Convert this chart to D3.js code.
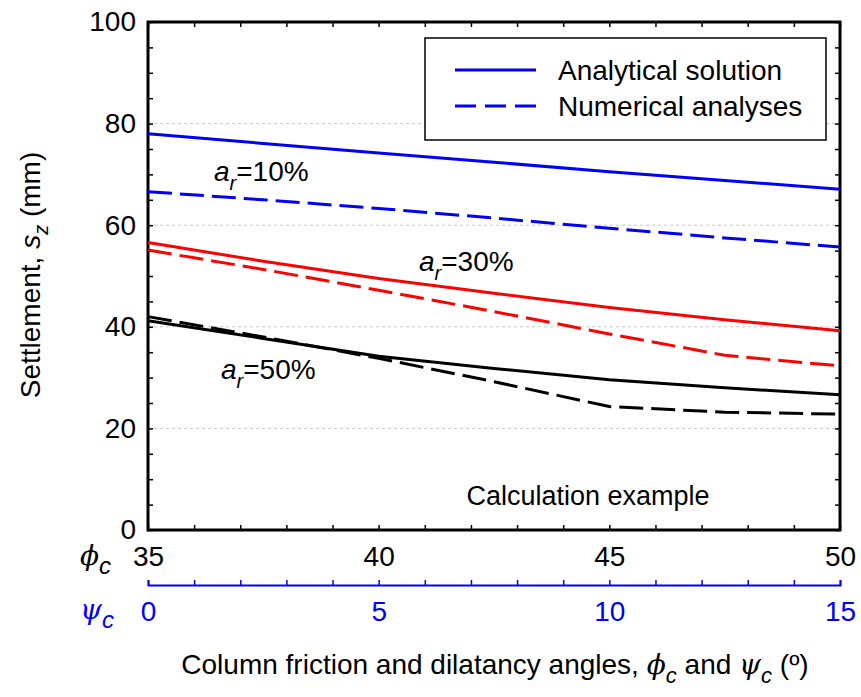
<!DOCTYPE html>
<html>
<head>
<meta charset="utf-8">
<script src="https://cdn.jsdelivr.net/npm/d3@7"></script>
<style>
  body { margin: 0; background: #fff; }
  svg { font-family: "Liberation Sans", Arial, sans-serif; }
</style>
</head>
<body>
<svg width="861" height="697"></svg>
<script>
// friction angle phi_c (deg), dilatancy psi_c = phi_c - 35
var phi = [35, 37.5, 40, 42.5, 45, 47.5, 50];

// settlement s_z (mm)
var analytical10 = [78.0, 76.1, 74.2, 72.4, 70.5, 68.8, 67.1];
var numerical10  = [66.6, 65.0, 63.3, 61.4, 59.4, 57.5, 55.7];
var analytical30 = [56.6, 52.9, 49.5, 46.6, 43.8, 41.4, 39.2];
var numerical30  = [55.1, 51.3, 47.2, 43.0, 38.6, 34.4, 32.3];
var analytical50 = [41.2, 37.7, 34.2, 31.8, 29.6, 28.0, 26.6];
var numerical50  = [42.0, 38.0, 33.8, 29.2, 24.3, 23.2, 22.8];

var yTicks = [0, 20, 40, 60, 80, 100];
var phiTicks = [35, 40, 45, 50];
var psiTicks = [0, 5, 10, 15];

var plotL = 148, plotR = 840, plotT = 22, plotB = 530;
var fs = 28;

var svg = d3.select("svg");

var x = d3.scaleLinear().domain([35, 50]).range([plotL, plotR]);
var xPsi = d3.scaleLinear().domain([0, 15]).range([plotL, plotR]);
var y = d3.scaleLinear().domain([0, 100]).range([plotB, plotT]);

// grid
svg.append("g")
  .selectAll("line")
  .data(yTicks.filter(function (d) { return d > 0 && d < 100; }))
  .enter().append("line")
  .attr("x1", plotL).attr("x2", plotR)
  .attr("y1", function (d) { return y(d); })
  .attr("y2", function (d) { return y(d); })
  .attr("stroke", "#c8c8c8")
  .attr("stroke-width", 1)
  .attr("stroke-dasharray", "3,3");

// axes
var yAxis = d3.axisLeft(y)
  .tickValues(d3.range(0, 101, 5))
  .tickSizeInner(-5).tickSizeOuter(0).tickPadding(12)
  .tickFormat(function (d) { return yTicks.indexOf(d) >= 0 ? d : ""; });

var xAxis = d3.axisBottom(x)
  .tickValues(d3.range(35, 51, 1))
  .tickSizeInner(-5).tickSizeOuter(0).tickPadding(16)
  .tickFormat(function (d) { return phiTicks.indexOf(d) >= 0 ? d : ""; });

svg.append("g").attr("transform", "translate(" + plotL + ",0)").call(yAxis);
svg.append("g").attr("transform", "translate(0," + plotB + ")").call(xAxis);
svg.append("g").attr("transform", "translate(" + plotR + ",0)")
  .call(d3.axisRight(y).tickValues(d3.range(0, 101, 5)).tickSizeInner(-5).tickSizeOuter(0).tickFormat(""));
svg.append("g").attr("transform", "translate(0," + plotT + ")")
  .call(d3.axisTop(x).tickValues(d3.range(35, 51, 1)).tickSizeInner(-5).tickSizeOuter(0).tickFormat(""));

svg.selectAll(".domain").remove();
svg.selectAll(".tick line").attr("stroke", "#000").attr("stroke-width", 1.5);
svg.selectAll(".tick text").attr("font-size", fs).attr("fill", "#000")
  .style("font-family", "Liberation Sans, Arial, sans-serif");

// psi axis
var psiAxis = d3.axisBottom(xPsi)
  .tickValues(d3.range(0, 16, 1))
  .tickSizeInner(-5).tickSizeOuter(-5).tickPadding(16)
  .tickFormat(function (d) { return psiTicks.indexOf(d) >= 0 ? d : ""; });
var gp = svg.append("g").attr("transform", "translate(0,585)").call(psiAxis);
gp.select(".domain").attr("stroke", "#0000ff").attr("stroke-width", 2);
gp.selectAll(".tick line").attr("stroke", "#0000ff").attr("stroke-width", 1.5);
gp.selectAll(".tick text").attr("font-size", fs).attr("fill", "#0000ff")
  .style("font-family", "Liberation Sans, Arial, sans-serif");

// frame
svg.append("rect")
  .attr("x", plotL).attr("y", plotT)
  .attr("width", plotR - plotL).attr("height", plotB - plotT)
  .attr("fill", "none").attr("stroke", "#000").attr("stroke-width", 3);

// series
var series = [
  { vals: analytical10, color: "#0000ff", dash: null },
  { vals: numerical10, color: "#0000ff", dash: "24,8" },
  { vals: analytical30, color: "#ff0000", dash: null },
  { vals: numerical30, color: "#ff0000", dash: "24,8" },
  { vals: analytical50, color: "#000000", dash: null },
  { vals: numerical50, color: "#000000", dash: "24,8" }
];

var line = d3.line()
  .x(function (d, i) { return x(phi[i]); })
  .y(function (d) { return y(d); });

svg.append("g").selectAll("path")
  .data(series)
  .enter().append("path")
  .attr("d", function (s) { return line(s.vals); })
  .attr("fill", "none")
  .attr("stroke", function (s) { return s.color; })
  .attr("stroke-width", 3)
  .attr("stroke-linejoin", "round")
  .attr("stroke-dasharray", function (s) { return s.dash; });

// a_r labels
function arLabel(px, py, txt) {
  var t = svg.append("text").attr("x", px).attr("y", py).attr("font-size", fs);
  t.append("tspan").attr("font-style", "italic").text("a");
  t.append("tspan").attr("font-style", "italic").attr("font-size", 20).attr("dy", 9).text("r");
  t.append("tspan").attr("dy", -9).text(txt);
}
arLabel(214, 181, "=10%");
arLabel(419, 271, "=30%");
arLabel(221, 379, "=50%");

// legend
svg.append("rect")
  .attr("x", 425).attr("y", 38).attr("width", 401).attr("height", 102)
  .attr("fill", "#fff").attr("stroke", "#000").attr("stroke-width", 1.5);
var legend = [
  { label: "Analytical solution", dash: null, yy: 70 },
  { label: "Numerical analyses", dash: "21,9", yy: 106 }
];
legend.forEach(function (l) {
  svg.append("line")
    .attr("x1", 455).attr("x2", 536).attr("y1", l.yy).attr("y2", l.yy)
    .attr("stroke", "#0000ff").attr("stroke-width", 3)
    .attr("stroke-dasharray", l.dash);
  svg.append("text").attr("x", 558).attr("y", l.yy + 10)
    .attr("font-size", fs).text(l.label);
});

svg.append("text").attr("x", 588).attr("y", 505)
  .attr("text-anchor", "middle").attr("font-size", 27).text("Calculation example");

// axis symbol labels
var ph = svg.append("text").attr("x", 80).attr("y", 565).attr("font-size", 28);
ph.append("tspan").attr("font-style", "italic").style("font-family", "DejaVu Serif, serif").text("\u03d5");
ph.append("tspan").attr("font-style", "italic").attr("font-size", 24).attr("dy", 9).text("c");

var ps = svg.append("text").attr("x", 80).attr("y", 619).attr("font-size", 28).attr("fill", "#0000ff");
ps.append("tspan").attr("font-style", "italic").style("font-family", "DejaVu Serif, serif").text("\u03c8");
ps.append("tspan").attr("font-style", "italic").attr("font-size", 24).attr("dy", 9).text("c");

// y title
var yt = svg.append("text")
  .attr("transform", "translate(40,275) rotate(-90)")
  .attr("text-anchor", "middle").attr("font-size", fs);
yt.append("tspan").text("Settlement, ");
yt.append("tspan").attr("font-style", "italic").text("s");
yt.append("tspan").attr("font-style", "italic").attr("font-size", 20).attr("dy", 8).text("z");
yt.append("tspan").attr("dy", -8).text(" (mm)");

// x title
var xt = svg.append("text").attr("x", 495).attr("y", 674)
  .attr("text-anchor", "middle").attr("font-size", fs);
xt.append("tspan").text("Column friction and dilatancy angles, ");
xt.append("tspan").attr("font-style", "italic").style("font-family", "DejaVu Serif, serif").text("\u03d5");
xt.append("tspan").attr("font-style", "italic").attr("font-size", 22).attr("dy", 9).text("c");
xt.append("tspan").attr("dy", -9).text(" and ");
xt.append("tspan").attr("font-style", "italic").style("font-family", "DejaVu Serif, serif").text("\u03c8");
xt.append("tspan").attr("font-style", "italic").attr("font-size", 22).attr("dy", 9).text("c");
xt.append("tspan").attr("dy", -9).text(" (\u00ba)");
</script>
</body>
</html>
